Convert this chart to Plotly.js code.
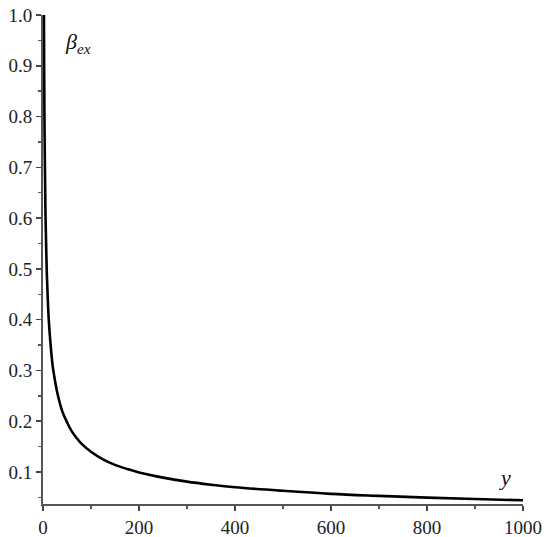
<!DOCTYPE html>
<html>
<head>
<meta charset="utf-8">
<script src="https://cdn.plot.ly/plotly-3.0.1.min.js"></script>
<style>html,body{margin:0;padding:0;background:#fff;}#chart{width:550px;height:537px;}</style>
</head>
<body>
<div id="chart"></div>
<script>
const yValues = [1.5, 2, 3, 4, 5, 6, 8, 10, 12, 15, 20, 25, 30, 40, 50, 60, 70, 80, 100, 125, 150, 175, 200, 250, 300, 350, 400, 500, 600, 700, 800, 900, 1000];
const betaEx = [1.14, 0.99, 0.80, 0.70, 0.62, 0.57, 0.49, 0.44, 0.40, 0.36, 0.31, 0.28, 0.255, 0.22, 0.198, 0.18, 0.167, 0.156, 0.14, 0.125, 0.114, 0.106, 0.099, 0.089, 0.081, 0.075, 0.07, 0.063, 0.057, 0.053, 0.0495, 0.0467, 0.0443];
const xTickVals = [0, 200, 400, 600, 800, 1000];
const yTickVals = [0.1, 0.2, 0.3, 0.4, 0.5, 0.6, 0.7, 0.8, 0.9, 1.0];

const serif = 'Liberation Serif';
const trace = {
  x: yValues, y: betaEx, type: 'scatter', mode: 'lines',
  line: {color: '#000', width: 2.6, shape: 'spline'},
  cliponaxis: true, hoverinfo: 'skip'
};
const tickFont = {family: serif, size: 19, color: '#222'};
const layout = {
  width: 550, height: 537,
  margin: {l: 43, r: 27, t: 15, b: 33},
  paper_bgcolor: '#fff', plot_bgcolor: '#fff',
  showlegend: false,
  font: {family: serif},
  xaxis: {
    range: [0, 1000], tickvals: xTickVals, ticks: 'outside', ticklen: 5, tickwidth: 1.5,
    tickcolor: '#444', showline: true, linecolor: '#555', linewidth: 2,
    showgrid: false, zeroline: false, tickfont: tickFont, ticklabelstandoff: 0,
    minor: {dtick: 100, ticks: 'outside', ticklen: 3, tickcolor: '#555', showgrid: false}
  },
  yaxis: {
    range: [0.037, 1.0], tickvals: yTickVals, tickformat: '.1f', ticks: 'outside', ticklen: 5, tickwidth: 1.5,
    tickcolor: '#444', showline: true, linecolor: '#555', linewidth: 2,
    showgrid: false, zeroline: false, tickfont: tickFont,
    minor: {dtick: 0.05, tick0: 0, ticks: 'outside', ticklen: 3, tickcolor: '#555', showgrid: false}
  },
  annotations: [
    {x: 42, y: 0.945, xref: 'x', yref: 'y', xanchor: 'left', yanchor: 'middle', showarrow: false,
     text: '<i>β</i><sub><i>ex</i></sub>', font: {family: serif, size: 22, color: '#111'}},
    {x: 945, y: 0.09, xref: 'x', yref: 'y', xanchor: 'left', yanchor: 'middle', showarrow: false,
     text: '<i>y</i>', font: {family: serif, size: 22, color: '#111'}}
  ]
};
Plotly.newPlot('chart', [trace], layout, {displayModeBar: false, staticPlot: true});
</script>
</body>
</html>
